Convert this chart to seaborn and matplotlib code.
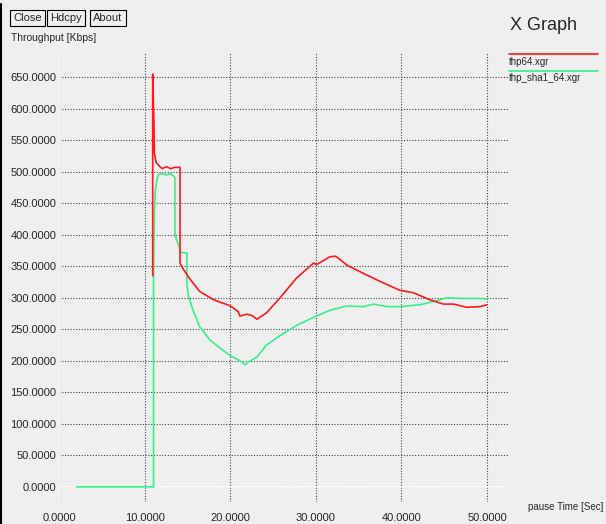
import matplotlib
matplotlib.use("Agg")
import matplotlib.pyplot as plt
import seaborn as sns
from matplotlib.lines import Line2D

# thp64.xgr (red)
red_t = [10.9, 10.9, 11.05, 11.1, 11.3, 11.6, 12.0, 12.5, 13.0, 13.5, 14.1, 14.1, 14.5,
         15.3, 16.4, 18.0, 20.0, 20.9, 21.1, 21.9, 22.5, 23.1, 24.2, 25.8, 27.7, 29.7,
         30.1, 31.0, 31.6, 32.3, 32.8, 33.6, 35.5, 37.5, 39.8, 41.4, 43.3, 44.9, 46.1,
         47.6, 49.2, 50.0]
red_v = [335, 655, 575, 530, 515, 510, 505, 508, 505, 507, 507, 355, 345,
         329, 310, 297, 287, 278, 271, 274, 272, 266, 276, 300, 331, 355,
         353, 360, 365, 366, 361, 352, 339, 326, 312, 308, 297, 290, 290,
         285, 286, 289]

# thp_sha1_64.xgr (green)
green_t = [2.0, 11.0, 11.0, 11.1, 11.2, 11.4, 11.6, 12.0, 12.5, 13.0, 13.5, 13.5, 13.9,
           14.2, 14.9, 14.9, 15.1, 15.6, 16.4, 17.6, 18.8, 20.0, 21.1, 21.7, 22.3, 23.1,
           24.2, 25.8, 27.7, 29.7, 31.6, 33.6, 35.5, 36.7, 38.3, 39.8, 42.2, 43.7, 45.3,
           46.8, 49.2, 50.0]
green_v = [0, 0, 335, 440, 469, 488, 496, 497, 495, 497, 491, 400, 384,
           372, 371, 320, 302, 281, 254, 233, 220, 208, 200, 194, 200, 206,
           225, 240, 256, 269, 280, 287, 286, 290, 286, 286, 289, 294, 300,
           299, 299, 298]

y_ticks = list(range(0, 651, 50))
x_ticks = [0, 10, 20, 30, 40, 50]

RED = "#ff1a1a"
GREEN = "#38f088"
BG = "#efefef"

sns.set_style("white")
plt.rcParams["font.family"] = ["Liberation Sans", "DejaVu Sans"]

W, H = 606, 524
fig = plt.figure(figsize=(W / 100, H / 100), dpi=100, facecolor=BG)
ax = fig.add_axes([59 / W, 1 - 502 / H, (508 - 59) / W, (502 - 52) / H])
ax.set_facecolor(BG)

sns.lineplot(x=red_t, y=red_v, sort=False, estimator=None, color=RED, lw=1.2, ax=ax, zorder=4)
sns.lineplot(x=green_t, y=green_v, sort=False, estimator=None, color=GREEN, lw=1.2, ax=ax, zorder=3)

ax.set_xlim(-0.06, 52.46)
ax.set_ylim(-24, 690)
ax.set_xticks(x_ticks)
ax.set_yticks(y_ticks)
ax.set_xticklabels([f"{v:.4f}" for v in x_ticks], fontsize=8)
ax.set_yticklabels([f"{v:.4f}" for v in y_ticks], fontsize=8)
ax.tick_params(length=0)
ax.tick_params(axis="y", pad=2)
ax.tick_params(axis="x", pad=8)
ax.grid(True, color="#444444", linestyle=(0, (1, 1.5)), linewidth=0.8)
ax.set_axisbelow(True)
ax.axhline(0, color="white", lw=1.2, zorder=1.5)
ax.axvline(0, color="#f8f8f8", lw=1.2, zorder=1.5)
for s in ax.spines.values():
    s.set_visible(False)

def px(x, y):
    return x / W, 1 - y / H

# window border
fig.add_artist(Line2D([1 / W, 1 / W], [0, 1 - 4 / H], color="black", lw=1.5))

# buttons
for label, x0 in [("Close", 13), ("Hdcpy", 50), ("About", 93)]:
    fig.text(*px(x0, 18), label, fontsize=8, va="center", ha="left",
             bbox=dict(boxstyle="square,pad=0.3", fc=BG, ec="black", lw=0.8))

fig.text(*px(11, 38), "Throughput [Kbps]", fontsize=7.5, va="center", ha="left")
fig.text(*px(510, 25), "X Graph", fontsize=13, va="center", ha="left")
fig.text(*px(528, 507), "pause Time [Sec]", fontsize=7, va="center", ha="left")

# legend
fig.add_artist(Line2D([509 / W, 598 / W], [1 - 54 / H] * 2, color=RED, lw=1.2))
fig.text(*px(509, 62), "thp64.xgr", fontsize=7, va="center", ha="left")
fig.add_artist(Line2D([509 / W, 598 / W], [1 - 71 / H] * 2, color=GREEN, lw=1.2))
fig.text(*px(509, 78), "thp_sha1_64.xgr", fontsize=7, va="center", ha="left")

fig.savefig("out.png", dpi=100, facecolor=BG)
